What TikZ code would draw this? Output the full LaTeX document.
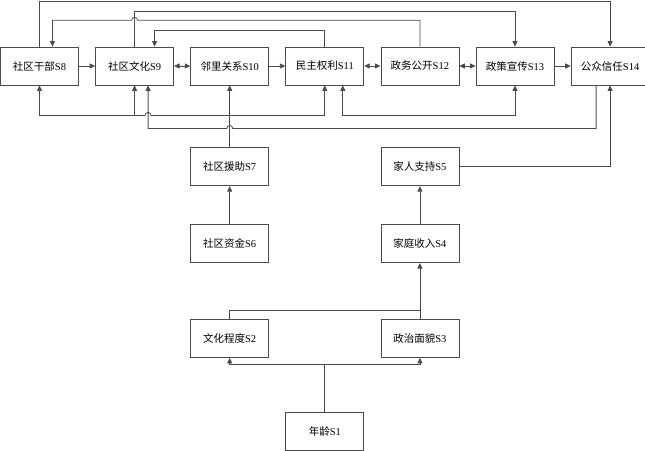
\documentclass[tikz,border=0pt]{standalone}
\usepackage{fontspec}
\setmainfont{Liberation Serif}
\newfontfamily\cjk{Noto Sans CJK SC}
\usepackage{tikz}
\usetikzlibrary{arrows.meta,positioning,calc}
\definecolor{LineGray}{HTML}{4A4A4A}
\tikzset{
  factorbox/.style={draw=LineGray,line width=0.8pt,minimum width=78pt,minimum height=38pt,inner sep=2pt,font=\fontsize{10.5}{12}\selectfont},
  link/.style={-{Triangle[length=5.5pt,width=5pt]},line width=0.8pt,draw=LineGray},
  bilink/.style={{Triangle[length=5.5pt,width=5pt]}-{Triangle[length=5.5pt,width=5pt]},line width=0.8pt,draw=LineGray},
  plainlink/.style={line width=0.8pt,draw=LineGray}
}
\begin{document}
\begin{tikzpicture}[x=1pt,y=1pt,node distance=38pt and 16.3pt]
\useasboundingbox (0,0) rectangle (645,-450);
% top row
\node[factorbox] (s8) at (39.5,-66) {{\cjk 社区干部}S8};
\node[factorbox,right=of s8] (s9) {{\cjk 社区文化}S9};
\node[factorbox,right=of s9] (s10) {{\cjk 邻里关系}S10};
\node[factorbox,right=of s10] (s11) {{\cjk 民主权利}S11};
\node[factorbox,right=of s11] (s12) {{\cjk 政务公开}S12};
\node[factorbox,right=of s12] (s13) {{\cjk 政策宣传}S13};
\node[factorbox,right=of s13] (s14) {{\cjk 公众信任}S14};
% lower part
\node[factorbox,below=62pt of s10] (s7) {{\cjk 社区援助}S7};
\node[factorbox,below=of s7] (s6) {{\cjk 社区资金}S6};
\node[factorbox,below=62pt of s12] (s5) {{\cjk 家人支持}S5};
\node[factorbox,below=of s5] (s4) {{\cjk 家庭收入}S4};
\node[factorbox,below=56pt of s6] (s2) {{\cjk 文化程度}S2};
\node[factorbox,below=56pt of s4] (s3) {{\cjk 政治面貌}S3};
\node[factorbox] (s1) at ($(s2)!0.5!(s3)+(0,-93)$) {{\cjk 年龄}S1};
% row arrows
\draw[link] (s8.east)--(s9.west);
\draw[bilink] (s9.east)--(s10.west);
\draw[link] (s10.east)--(s11.west);
\draw[bilink] (s11.east)--(s12.west);
\draw[bilink] (s12.east)--(s13.west);
\draw[link] (s13.east)--(s14.west);
% loops above
\draw[link] (s8.north) -- ++(0,45.5) -| (s14.north);
\draw[link] (s9.north) -- ++(0,35) -| (s13.north);
\draw[link] (s12.north) -- ++(0,26.3) -- ($(s9.north)+(3,26.3)$) arc[start angle=0,end angle=180,radius=3] -| ($(s8.north)+(13,0)$);
\draw[link] (s11.north) -- ++(0,16.5) -| ($(s9.north)+(20,0)$);
% loops below
\draw[link] (s7.north) -- (s10.south);
\draw[link] ($(s10.south)+(0,-30)$) -- ($(s9.south)+(16.5,-30)$) arc[start angle=0,end angle=180,radius=3] -| (s8.south);
\draw[link] ($(s9.south)+(0,-30)$) -- (s9.south);
\draw[link] ($(s10.south)+(0,-30)$) -| (s11.south);
\draw[bilink] ($(s11.south)+(18,0)$) -- ++(0,-30) -| (s13.south);
\draw[link] ($(s14.south)+(-14,0)$) -- ++(0,-43) -- ($(s10.south)+(3,-43)$) arc[start angle=0,end angle=180,radius=3] -| ($(s9.south)+(13.5,0)$);
\draw[link] (s5.east) -| (s14.south);
% chains
\draw[link] (s6.north) -- (s7.south);
\draw[link] (s4.north) -- (s5.south);
\draw[link] (s3.north) -- (s4.south);
\draw[plainlink] (s2.north) -- ++(0,9) -| (s3.north);
\draw[link] (s1.north) -- ++(0,48) -| (s2.south);
\draw[link] (s1.north) -- ++(0,48) -| (s3.south);
\end{tikzpicture}
\end{document}
